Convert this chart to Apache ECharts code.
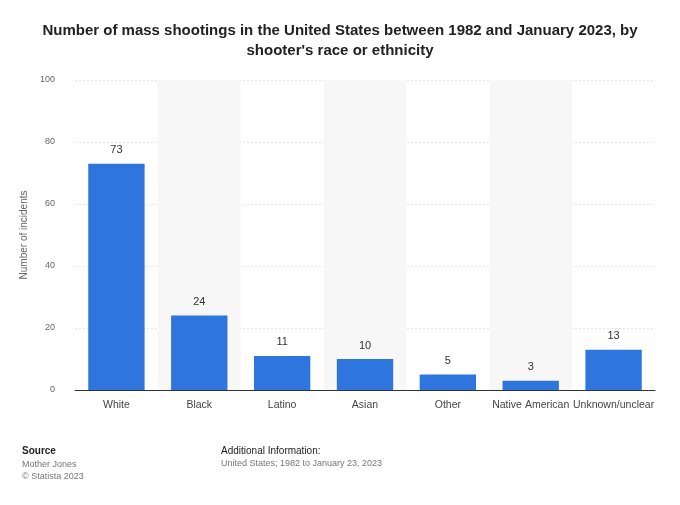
<!DOCTYPE html>
<html>
<head>
<meta charset="utf-8">
<script src="https://cdn.jsdelivr.net/npm/echarts@6/dist/echarts.min.js"></script>
<style>body{margin:0;background:#fff}#chart{width:680px;height:505px}</style>
</head>
<body>
<div id="chart"></div>
<script>
// data
const categories = ['White', 'Black', 'Latino', 'Asian', 'Other', 'Native American', 'Unknown/unclear'];
const incidents = [73, 24, 11, 10, 5, 3, 13];
const yTicks = [0, 20, 40, 60, 80, 100];

const myChart = echarts.init(document.getElementById('chart'));
const grey = '#666';
const option = {
    title: {
        text: 'Number of mass shootings in the United States between 1982 and January 2023, by\nshooter\'s race or ethnicity',
        left: 'center',
        top: 16,
        textStyle: { fontFamily: 'Arial, Liberation Sans', fontSize: 15, fontWeight: 'bold', color: '#222', lineHeight: 20 }
    },
    grid: { left: 75, right: 25, top: 80, bottom: 115 },
    xAxis: {
        type: 'category',
        data: categories,
        axisTick: { show: false },
        axisLine: { lineStyle: { color: '#333' } },
        axisLabel: { interval: 0, color: '#444', fontSize: 10.5, fontFamily: 'Arial, Liberation Sans', margin: 10 },
        splitArea: { show: true, interval: 0, areaStyle: { color: ['rgba(0,0,0,0)', '#f7f7f7'] } }
    },
    yAxis: {
        type: 'value',
        min: yTicks[0],
        max: yTicks[yTicks.length - 1],
        interval: 20,
        name: 'Number of incidents',
        nameLocation: 'middle',
        nameGap: 38,
        nameTextStyle: { color: grey, fontSize: 10, fontFamily: 'Arial, Liberation Sans' },
        axisLabel: { color: grey, fontSize: 9, fontFamily: 'Arial, Liberation Sans', margin: 20 },
        splitLine: { lineStyle: { color: '#e4e4e4', type: [2, 2] } }
    },
    series: [{
        type: 'bar',
        data: incidents,
        barWidth: '68%',
        itemStyle: { color: '#2e75de' },
        label: { show: true, position: 'top', distance: 8, color: '#333', fontSize: 11, fontFamily: 'Arial, Liberation Sans' }
    }],
    graphic: [
        { type: 'text', left: 22, top: 446, style: { text: 'Source', fontSize: 10, fontWeight: 'bold', fill: '#222', fontFamily: 'Arial, Liberation Sans' } },
        { type: 'text', left: 22, top: 459, style: { text: 'Mother Jones\n© Statista 2023', fontSize: 9, lineHeight: 12, fill: '#777', fontFamily: 'Arial, Liberation Sans' } },
        { type: 'text', left: 221, top: 446, style: { text: 'Additional Information:', fontSize: 10, fill: '#222', fontFamily: 'Arial, Liberation Sans' } },
        { type: 'text', left: 221, top: 459, style: { text: 'United States; 1982 to January 23, 2023', fontSize: 9, fill: '#777', fontFamily: 'Arial, Liberation Sans' } }
    ]
};
option && myChart.setOption(option);
</script>
</body>
</html>
